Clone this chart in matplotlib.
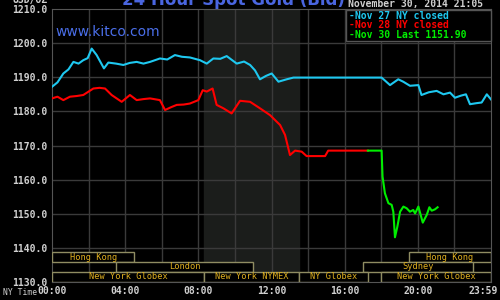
import matplotlib
matplotlib.use("Agg")
import matplotlib.pyplot as plt
import matplotlib.transforms as mtransforms
from matplotlib.patches import Rectangle

# hours since midnight (NY time) and spot bid prices
nov27_hours = [0.0, 0.3, 0.62, 0.9, 1.17, 1.45, 1.71, 1.95, 2.17, 2.44, 2.84, 3.08,
               3.5, 3.9, 4.25, 4.63, 5.0, 5.36, 5.9, 6.3, 6.72, 7.1, 7.54, 8.09,
               8.46, 8.82, 9.2, 9.55, 10.1, 10.5, 10.83, 11.1, 11.37, 11.7, 12.01,
               12.38, 12.83, 13.2, 18.02, 18.48, 18.93, 19.2, 19.57, 20.03, 20.2,
               20.6, 21.03, 21.4, 21.76, 22.03, 22.35, 22.63, 22.85, 23.2, 23.49,
               23.77, 24.0]
nov27_price = [1187.2, 1188.5, 1191.1, 1192.3, 1194.5, 1194.0, 1195.0, 1195.6, 1198.4,
               1196.5, 1192.6, 1194.3, 1194.0, 1193.6, 1194.2, 1194.5, 1194.0, 1194.5,
               1195.5, 1195.2, 1196.5, 1196.0, 1195.8, 1195.0, 1194.0, 1195.5, 1195.4,
               1196.2, 1194.0, 1194.6, 1193.6, 1192.0, 1189.4, 1190.4, 1191.1, 1188.7,
               1189.4, 1189.9, 1189.9, 1187.7, 1189.4, 1188.7, 1187.5, 1187.7, 1184.8,
               1185.6, 1186.0, 1185.0, 1185.5, 1184.0, 1184.6, 1185.0, 1182.1, 1182.4,
               1182.6, 1185.0, 1183.5]

nov28_hours = [0.0, 0.3, 0.62, 0.98, 1.35, 1.71, 2.26, 2.6, 2.9, 3.26, 3.81, 4.26,
               4.63, 5.0, 5.36, 5.9, 6.18, 6.5, 6.82, 7.2, 7.54, 8.0, 8.24, 8.46,
               8.78, 9.0, 9.37, 9.82, 10.28, 10.83, 11.37, 11.92, 12.47, 12.74,
               13.01, 13.29, 13.65, 13.92, 14.93, 15.1, 17.27]
nov28_price = [1183.8, 1184.3, 1183.3, 1184.3, 1184.5, 1184.8, 1186.7, 1186.9, 1186.7,
               1184.8, 1182.8, 1184.8, 1183.3, 1183.6, 1183.8, 1183.3, 1180.4, 1181.2,
               1181.9, 1182.0, 1182.3, 1183.3, 1186.2, 1185.8, 1186.7, 1181.9, 1180.9,
               1179.4, 1183.1, 1182.8, 1180.9, 1178.9, 1176.0, 1173.1, 1167.2, 1168.5,
               1168.2, 1166.9, 1166.9, 1168.5, 1168.5]

nov30_hours = [17.27, 18.02, 18.07, 18.2, 18.39, 18.57, 18.66, 18.75, 18.88, 19.03,
               19.21, 19.39, 19.57, 19.75, 19.85, 20.03, 20.27, 20.49, 20.63, 20.76,
               20.94, 21.08]
nov30_price = [1168.5, 1168.5, 1160.9, 1156.0, 1153.1, 1152.6, 1150.6, 1143.1, 1146.2,
               1150.6, 1152.1, 1151.6, 1150.6, 1151.1, 1150.1, 1152.1, 1147.4, 1149.7,
               1151.9, 1150.9, 1151.3, 1151.9]

legend_labels = ["Nov 27 NY closed", "Nov 28 NY closed", "Nov 30 Last 1151.90"]
legend_colors = ["#1ec8f0", "#ff0000", "#00ee00"]

# trading sessions: name, start hour, end hour, row (0 = top)
sessions = [
    ("Hong Kong", 0.0, 4.5, 0),
    ("Hong Kong", 19.5, 24.0, 0),
    ("London", 3.5, 11.0, 1),
    ("Sydney", 17.0, 23.0, 1),
    ("New York Globex", 0.0, 8.33, 2),
    ("New York NYMEX", 8.33, 13.5, 2),
    ("NY Globex", 13.5, 17.25, 2),
    ("New York Globex", 18.0, 24.0, 2),
]
ny_open, ny_close = 8.33, 13.5

y_ticks = list(range(1130, 1211, 10))
x_labels = ["00:00", "04:00", "08:00", "12:00", "16:00", "20:00", "23:59"]

mono = "DejaVu Sans Mono"
grey = "#d0d0d0"
gold = "#e0b020"
box = "#8f8c62"

fig = plt.figure(figsize=(5, 3), dpi=100, facecolor="black")
ax = fig.add_axes([0.104, 0.06, 0.878, 0.91], facecolor="black")
ax.set_xlim(0, 24)
ax.set_ylim(1130, 1210)

ax.axvspan(ny_open, ny_close, color="#1b1d1b", zorder=0)
for h in range(2, 24, 2):
    ax.axvline(h, color="#3a3a3a", lw=1, zorder=1)
for p in y_ticks[1:-1]:
    ax.axhline(p, color="#3a3a3a", lw=1, zorder=1)

ax.plot(nov27_hours, nov27_price, color=legend_colors[0], lw=1.5, zorder=3)
ax.plot(nov28_hours, nov28_price, color=legend_colors[1], lw=1.5, zorder=3)
ax.plot(nov30_hours, nov30_price, color=legend_colors[2], lw=1.5, zorder=4)

row_h = 80 / 27.3  # one session row in price units
for name, start, end, row in sessions:
    y0 = 1130 + (2 - row) * row_h
    ax.add_patch(Rectangle((start, y0), end - start, row_h, facecolor="black",
                           edgecolor=box, lw=1, zorder=5))
    ax.text((start + end) / 2, y0 + row_h / 2, name, color=gold, fontsize=6.2,
            family=mono, ha="center", va="center", zorder=6)

ax.set_yticks(y_ticks)
ax.set_yticklabels([f"{p}.0" for p in y_ticks], family=mono, fontweight="bold",
                   fontsize=7, color=grey)
ax.set_xticks([0, 4, 8, 12, 16, 20, 24])
ax.set_xticklabels(x_labels, family=mono, fontweight="bold", fontsize=7, color=grey)
ax.tick_params(length=0, pad=3)
last = ax.get_xticklabels()[-1]
last.set_transform(last.get_transform() +
                   mtransforms.ScaledTranslation(-8 / 100, 0, fig.dpi_scale_trans))
for s in ax.spines.values():
    s.set_color("#555555")

# legend box
fig.patches.append(Rectangle((0.692, 0.863), 0.29, 0.104, transform=fig.transFigure,
                             facecolor="black", edgecolor="#555555", lw=1, zorder=5))
for i, (lab, col) in enumerate(zip(legend_labels, legend_colors)):
    fig.text(0.698, 0.948 - i * 0.032, "-" + lab, color=col, family=mono,
             fontweight="bold", fontsize=7, va="center", zorder=6)

fig.text(0.11, 0.895, "www.kitco.com", color="#4a6ee8", fontsize=10,
         family="DejaVu Sans", va="center")
fig.text(0.466, 1.0, "24 Hour Spot Gold (Bid)", color="#4a66e0", fontsize=12,
         fontweight="bold", ha="center", va="center")
fig.text(0.966, 0.987, "November 30, 2014 21:05", color=grey, family=mono,
         fontweight="bold", fontsize=7, ha="right", va="center")
fig.text(0.095, 1.0, "USD/OZ", color=grey, family=mono, fontweight="bold",
         fontsize=7, ha="right", va="center")
fig.text(0.006, 0.025, "NY Time", color=grey, family=mono, fontsize=5.8, va="center")

fig.savefig("out.png", dpi=100, facecolor="black")
